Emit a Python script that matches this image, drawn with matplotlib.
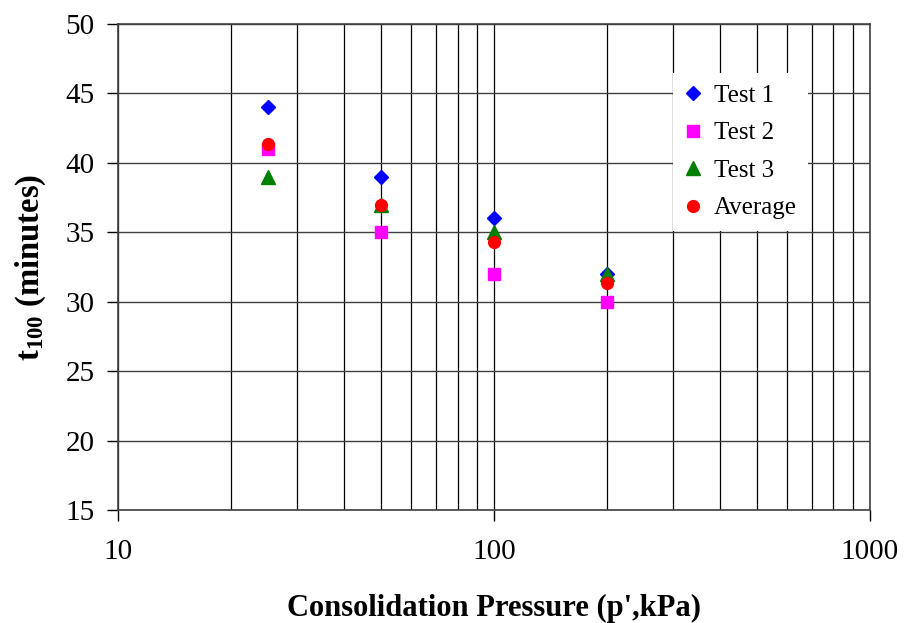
import numpy as np
import matplotlib
matplotlib.use("Agg")
import matplotlib.pyplot as plt
from matplotlib.ticker import LogLocator, NullFormatter, FixedLocator

plt.rcParams["font.family"] = ["Liberation Serif", "DejaVu Serif"]
plt.rcParams["mathtext.fontset"] = "custom"
plt.rcParams["mathtext.rm"] = "Liberation Serif"
plt.rcParams["mathtext.bf"] = "Liberation Serif:bold"

# consolidation pressure (kPa) and t100 (minutes)
pressure = [25, 50, 100, 200]
test1 = [44, 39, 36, 32]
test2 = [41, 35, 32, 30]
test3 = [39, 37, 35, 32]
average = [41.33, 37.0, 34.33, 31.33]

fig = plt.figure(figsize=(9.09, 6.23), dpi=100)
ax = fig.add_axes([0.1298, 0.1814, 0.8272, 0.7801])

ax.set_xscale("log")
ax.set_xlim(10, 1000)
ax.set_ylim(15, 50)
ax.set_yticks(np.arange(15, 51, 5))
ax.xaxis.set_major_locator(FixedLocator([10, 100, 1000]))
ax.xaxis.set_major_formatter(plt.FuncFormatter(lambda v, p: f"{int(v)}"))
ax.xaxis.set_minor_locator(LogLocator(base=10, subs=np.arange(2, 10)))
ax.xaxis.set_minor_formatter(NullFormatter())

ax.grid(True, which="major", axis="y", color="#404040", lw=1.0)
ax.grid(True, which="both", axis="x", color="black", lw=0.9)
ax.set_axisbelow(True)

ax.tick_params(axis="both", which="major", direction="out", length=8,
               width=1, labelsize=21, color="black")
ax.tick_params(axis="x", which="minor", length=0)
ax.tick_params(axis="x", which="major", pad=13)
ax.tick_params(axis="y", which="major", pad=9)
for s in ax.spines.values():
    s.set_color("#404040")
    s.set_linewidth(1.2)

ax.plot(pressure, test1, "D", color="#0000FF", ms=7.5, ls="none", label="Test 1")
ax.plot(pressure, test2, "s", color="#FF00FF", ms=8.5, ls="none", label="Test 2")
ax.plot(pressure, test3, "^", color="#008000", ms=9.5, ls="none", label="Test 3")
ax.plot(pressure, average, "o", color="#FF0000", ms=8.5, ls="none", label="Average")

ax.set_xlabel("Consolidation Pressure (p',kPa)", fontsize=22, fontweight="bold",
              labelpad=21)
ax.set_ylabel(r"$\mathbf{t_{100}}$ (minutes)", fontsize=23.5, fontweight="bold",
              labelpad=12)

leg = ax.legend(loc="upper left", bbox_to_anchor=(0.738, 0.899), fontsize=18,
                frameon=True, fancybox=False, handlelength=0.7,
                handletextpad=0.5, labelspacing=0.6, borderpad=0.45,
                borderaxespad=0)
leg.get_frame().set_edgecolor("none")
leg.get_frame().set_facecolor("white")
leg.get_frame().set_alpha(1)

fig.savefig("out.png", dpi=100)
